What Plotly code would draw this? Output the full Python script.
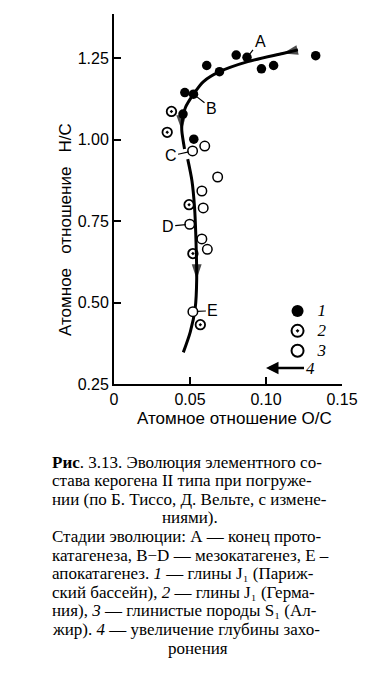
import plotly.graph_objects as go

# ---------------- data ----------------
x_ticks = [0, 0.05, 0.10, 0.15]
x_tick_labels = ["0", "0.05", "0.10", "0.15"]
y_ticks = [0.25, 0.50, 0.75, 1.00, 1.25]
y_tick_labels = ["0.25", "0.50", "0.75", "1.00", "1.25"]

# 1 - clays J1 (Paris basin)
s1_x = [0.0804, 0.0875, 0.1327, 0.0610, 0.0970, 0.1050, 0.0694, 0.0466, 0.0523, 0.0454, 0.0525]
s1_y = [1.259, 1.252, 1.257, 1.227, 1.217, 1.227, 1.208, 1.144, 1.139, 1.078, 1.001]
# 2 - clays J1 (Germany)
s2_x = [0.0378, 0.0350, 0.0494, 0.0519, 0.0568]
s2_y = [1.086, 1.022, 0.800, 0.650, 0.432]
# 3 - clay rocks S1 (Algeria)
s3_x = [0.0517, 0.0597, 0.0682, 0.0578, 0.0587, 0.0498, 0.0578, 0.0614, 0.0519]
s3_y = [0.965, 0.980, 0.885, 0.842, 0.790, 0.740, 0.695, 0.663, 0.472]

# 4 - evolution path (increasing burial depth)
path_x = [0.121, 0.111, 0.088, 0.0694, 0.0587, 0.0523, 0.0470, 0.0448, 0.0446, 0.0464, None,
          0.0485, 0.0513, 0.0530, 0.0538, 0.0544, 0.0534, 0.0502, 0.0456]
path_y = [1.275, 1.264, 1.239, 1.208, 1.177, 1.139, 1.098, 1.053, 1.028, 0.971, None,
          0.940, 0.873, 0.791, 0.709, 0.571, 0.482, 0.410, 0.347]
path_arrow = [0, 1, 0, 0, 0, 0, 0, 0, 1, 0, 0, 0, 0, 0, 0, 1, 0, 0, 0]
path_arrow_angle = [0, 257, 0, 0, 0, 0, 0, 0, 178, 0, 0, 0, 0, 0, 0, 180, 0, 0, 0]

# stage labels
stage_names = ["A", "B", "C", "D", "E"]
stage_x = [0.0875, 0.0523, 0.0517, 0.0498, 0.0519]
stage_y = [1.252, 1.139, 0.965, 0.740, 0.472]
stage_dx = [13, 18, -22, -22, 20]
stage_dy = [-16, 14, 5, 2, -1]

legend_names = ["1", "2", "3", "4"]

x_title = "Атомное отношение O/C"
y_title = "Атомное&nbsp;&nbsp; отношение&nbsp;&nbsp; H/C"

caption_lines = [
    "<b>Рис</b>. 3.13. Эволюция элементного со-",
    "става керогена II типа при погруже-",
    "нии (по Б. Тиссо, Д. Вельте, с измене-",
    "ниями).",
    "Стадии эволюции: А — конец прото-",
    "катагенеза, B−D — мезокатагенез, E –",
    "апокатагенез. <i>1</i> — глины J₁ (Париж-",
    "ский бассейн), <i>2</i> — глины J₁ (Герма-",
    "ния), <i>3</i> — глинистые породы S₁ (Ал-",
    "жир). <i>4</i> — увеличение глубины захо-",
    "ронения",
]
caption_centered = [False, False, False, True, False, False, False, False, False, False, True]

# ---------------- layout geometry ----------------
W, H = 370, 675
L, R, T, B = 114, 19, 14, 291
PW, PH = W - L - R, H - T - B


def px(xp):
    return (xp - L) / PW


def py(yp):
    return (H - B - yp) / PH


def big(s):
    return '<span style="font-size:17px"><i>%s</i></span>' % s


fig = go.Figure()

fig.add_trace(go.Scatter(
    x=path_x, y=path_y, mode="lines+markers", name=big(legend_names[3]), showlegend=False,
    line=dict(color="black", width=3, shape="spline", smoothing=0.8),
    connectgaps=False,
    marker=dict(symbol="arrow", color="black",
                size=[16 if a else 0 for a in path_arrow],
                angle=path_arrow_angle, line=dict(width=0)),
))
fig.add_trace(go.Scatter(
    x=s1_x, y=s1_y, mode="markers", name=big(legend_names[0]),
    marker=dict(symbol="circle", color="black", size=9.5),
))
fig.add_trace(go.Scatter(
    x=s2_x, y=s2_y, mode="markers", name=big(legend_names[1]),
    marker=dict(symbol="circle-open-dot", color="black", size=9.5, line=dict(width=1.8)),
))
fig.add_trace(go.Scatter(
    x=s3_x, y=s3_y, mode="markers", name=big(legend_names[2]),
    marker=dict(symbol="circle", color="white", size=9.5, line=dict(color="black", width=1.5)),
))

annotations = []
for n, xs, ys, dx, dy in zip(stage_names, stage_x, stage_y, stage_dx, stage_dy):
    annotations.append(dict(
        x=xs, y=ys, xref="x", yref="y", text=n, showarrow=True, arrowhead=0,
        arrowwidth=1.2, arrowcolor="black", ax=dx, ay=dy, standoff=4,
        font=dict(family="Liberation Sans", size=16, color="black"),
    ))

# legend item 4 (arrow of increasing burial depth)
annotations.append(dict(
    x=px(272), y=py(368), xref="paper", yref="paper", text=big(legend_names[3]),
    showarrow=True, arrowhead=2, arrowsize=1.0, arrowwidth=2.5, arrowcolor="black",
    ax=44, ay=0, standoff=0,
    font=dict(family="Liberation Serif", size=17, color="black"),
))

annotations.append(dict(
    x=px(239), y=py(419), xref="paper", yref="paper", text=x_title, showarrow=False,
    xanchor="center", yanchor="middle",
    font=dict(family="Liberation Sans", size=17, color="black"),
))
annotations.append(dict(
    x=px(63), y=py(229), xref="paper", yref="paper", text=y_title, showarrow=False,
    textangle=-90, xanchor="center", yanchor="middle",
    font=dict(family="Liberation Sans", size=17, color="black"),
))

line_y0, line_step = 462, 18.6
centers = {3: 193, 10: 201}
for i, (txt, cen) in enumerate(zip(caption_lines, caption_centered)):
    yy = py(line_y0 + i * line_step)
    if cen:
        annotations.append(dict(x=px(centers[i]), y=yy, xref="paper", yref="paper", text=txt,
                                showarrow=False, xanchor="center", yanchor="middle",
                                font=dict(family="Liberation Serif", size=17, color="black")))
    else:
        annotations.append(dict(x=px(47), y=yy, xref="paper", yref="paper", text=txt,
                                showarrow=False, xanchor="left", yanchor="middle",
                                font=dict(family="Liberation Serif", size=17, color="black")))

tickfont = dict(family="Liberation Sans Narrow, Arial Narrow, Liberation Sans", size=16, color="black")
fig.update_layout(
    width=W, height=H, autosize=False,
    margin=dict(l=L, r=R, t=T, b=B, pad=0),
    paper_bgcolor="white", plot_bgcolor="white",
    showlegend=True,
    legend=dict(x=px(284), y=py(296), xanchor="left", yanchor="top",
                traceorder="normal", itemsizing="constant",
                font=dict(family="Liberation Serif", size=13, color="black"),
                bgcolor="rgba(0,0,0,0)", tracegroupgap=0),
    annotations=annotations,
    xaxis=dict(range=[0, 0.15], tickvals=x_ticks, ticktext=x_tick_labels,
               ticks="inside", ticklen=7, tickwidth=1.5, tickcolor="black",
               showline=True, linecolor="black", linewidth=2, showgrid=False,
               zeroline=False, tickfont=tickfont),
    yaxis=dict(range=[0.25, 1.385], tickvals=y_ticks, ticktext=y_tick_labels,
               ticks="inside", ticklen=7, tickwidth=1.5, tickcolor="black",
               showline=True, linecolor="black", linewidth=2, showgrid=False,
               zeroline=False, tickfont=tickfont),
)

fig.write_html("out.html")
